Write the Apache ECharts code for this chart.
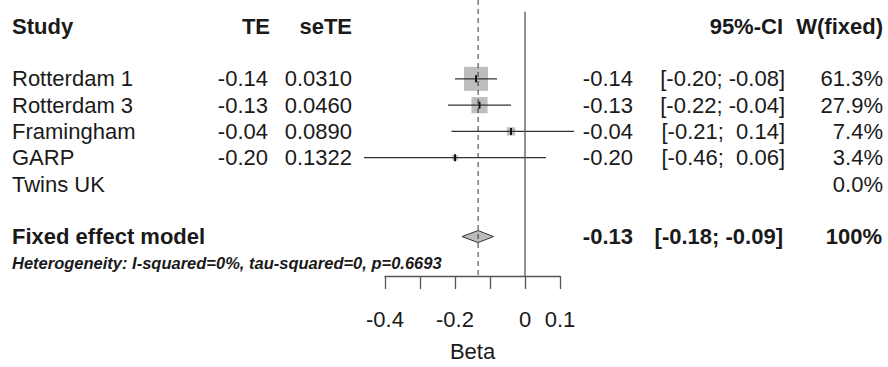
<!DOCTYPE html>
<html><head><meta charset="utf-8">
<script src="https://cdn.jsdelivr.net/npm/echarts@6/dist/echarts.min.js"></script>
<style>html,body{margin:0;padding:0;background:#fff}#c{width:888px;height:367px}</style>
</head><body><div id="c"></div>
<script>
// ---- data ----
var studies = ['Rotterdam 1', 'Rotterdam 3', 'Framingham', 'GARP', 'Twins UK'];
var te      = [-0.14, -0.13, -0.04, -0.20, null];
var seTE    = [0.0310, 0.0460, 0.0890, 0.1322, null];
var lower   = [-0.20, -0.22, -0.21, -0.46, null];
var upper   = [-0.08, -0.04, 0.14, 0.06, null];
var weight  = [61.3, 27.9, 7.4, 3.4, 0.0];
var pooled  = {label: 'Fixed effect model', te: -0.134, lower: -0.18, upper: -0.09, weight: 100};
var hetText = 'Heterogeneity: I-squared=0%, tau-squared=0, p=0.6693';
var headers = {study: 'Study', te: 'TE', se: 'seTE', ci: '95%-CI', w: 'W(fixed)'};
var xTicks  = [-0.4, -0.2, 0, 0.1];
var xName   = 'Beta';

// rows: header 0, studies 2.., pooled after a gap, heterogeneity below
var studyRows = studies.map(function(s, i){ return 2 + i; });
var pooledRow = studyRows[studyRows.length - 1] + 2;
var hetRow = pooledRow + 1;

var FONT = '"Liberation Sans", Arial, sans-serif';
var FS = 22;
var COL = {study: 12, te: 270, se: 352, eff: 633, ci: 785, w: 883};
var INK = '#1a1a1a';

function fmt2(v){ return v.toFixed(2); }
function ciStr(l, u){
  var a = fmt2(l), b = fmt2(u);
  if (u >= 0) b = ' ' + b;
  return '[' + a + '; ' + b + ']';
}

var studyData = studies.map(function(s, i){
  return [te[i] == null ? 0 : te[i], studyRows[i], lower[i] == null ? 0 : lower[i], upper[i] == null ? 0 : upper[i], weight[i], i];
});

function txt(x, y, s, align, opt){
  opt = opt || {};
  return {type: 'text', x: x, y: y, style: {
    text: s, textAlign: align, textVerticalAlign: 'middle',
    font: (opt.italic ? 'italic ' : '') + (opt.bold ? 'bold ' : '') + (opt.size || FS) + 'px ' + FONT,
    fill: INK
  }};
}

var maxW = Math.max.apply(null, weight);

var option = {
  animation: false,
  grid: {left: 385, right: 328, top: 0, bottom: 87},
  xAxis: {
    type: 'value', min: -0.4, max: 0.1, interval: 0.1,
    name: xName, nameLocation: 'middle', nameGap: 64,
    nameTextStyle: {fontFamily: FONT, fontSize: FS, color: INK},
    axisLine: {show: true, onZero: false, lineStyle: {color: '#555', width: 1.3}},
    axisTick: {show: true, length: 13, lineStyle: {color: '#555', width: 1.3}},
    splitLine: {show: false},
    axisLabel: {
      margin: 32, fontFamily: FONT, fontSize: FS, color: INK,
      formatter: function(v){
        for (var k = 0; k < xTicks.length; k++) if (Math.abs(xTicks[k] - v) < 1e-9) return String(xTicks[k]);
        return '';
      }
    }
  },
  yAxis: {type: 'value', inverse: true, min: -1, max: 9.5, show: false},
  series: [
    // reference lines: zero line and pooled-effect dashed line
    {
      type: 'line', symbol: 'none', silent: true,
      data: [[0, -0.55], [0, 9.5]],
      lineStyle: {color: '#555', width: 1.3}
    },
    {
      type: 'line', symbol: 'none', silent: true,
      data: [[pooled.te, -1], [pooled.te, 9.5]],
      lineStyle: {color: '#333', width: 1, type: [5, 4]}
    },
    // study CIs and squares
    {
      type: 'custom', clip: false,
      data: studyData,
      renderItem: function(params, api){
        var i = api.value(5);
        if (te[i] == null) return {type: 'group', children: []};
        var c = api.coord([api.value(0), api.value(1)]);
        var l = api.coord([api.value(2), api.value(1)]);
        var u = api.coord([api.value(3), api.value(1)]);
        var s = 24 * Math.sqrt(api.value(4) / maxW);
        return {type: 'group', children: [
          {type: 'rect', shape: {x: c[0] - s/2, y: c[1] - s/2, width: s, height: s}, style: {fill: '#bdbdbd'}},
          {type: 'line', shape: {x1: l[0], y1: c[1], x2: u[0], y2: c[1]}, style: {stroke: '#333', lineWidth: 1.3}},
          {type: 'rect', shape: {x: c[0] - 1, y: c[1] - 3.5, width: 2, height: 7}, style: {fill: '#111'}}
        ]};
      }
    },
    // pooled diamond
    {
      type: 'custom', clip: false,
      data: [[pooled.te, pooledRow, pooled.lower, pooled.upper]],
      renderItem: function(params, api){
        var c = api.coord([api.value(0), api.value(1)]);
        var l = api.coord([api.value(2), api.value(1)]);
        var u = api.coord([api.value(3), api.value(1)]);
        var h = 6;
        return {type: 'polygon', shape: {points: [[l[0], c[1]], [c[0], c[1] - h], [u[0], c[1]], [c[0], c[1] + h]]},
          style: {fill: '#bdbdbd', stroke: '#333', lineWidth: 1}};
      }
    },
    // table text
    {
      type: 'custom', clip: false,
      data: [[0, 0, -1]].concat(studyData.map(function(d){ return [0, d[1], d[5]]; })).concat([[0, pooledRow, -2], [0, hetRow, -3]]),
      renderItem: function(params, api){
        var y = api.coord([0, api.value(1)])[1];
        var k = api.value(2);
        var ch = [];
        if (k === -1) {
          ch.push(txt(COL.study, y, headers.study, 'left', {bold: true}));
          ch.push(txt(COL.te, y, headers.te, 'right', {bold: true}));
          ch.push(txt(COL.se, y, headers.se, 'right', {bold: true}));
          ch.push(txt(COL.ci - 2, y, headers.ci, 'right', {bold: true}));
          ch.push(txt(COL.w, y, headers.w, 'right', {bold: true}));
        } else if (k === -2) {
          ch.push(txt(COL.study, y, pooled.label, 'left', {bold: true}));
          ch.push(txt(COL.eff, y, fmt2(pooled.te), 'right', {bold: true}));
          ch.push(txt(COL.ci - 2, y, ciStr(pooled.lower, pooled.upper), 'right', {bold: true}));
          ch.push(txt(COL.w - 1, y, pooled.weight + '%', 'right', {bold: true}));
        } else if (k === -3) {
          ch.push(txt(COL.study, y, hetText, 'left', {bold: true, italic: true, size: 16.5}));
        } else {
          ch.push(txt(COL.study, y, studies[k], 'left'));
          if (te[k] != null) {
            ch.push(txt(COL.te - 2, y, fmt2(te[k]), 'right'));
            ch.push(txt(COL.se, y, seTE[k].toFixed(4), 'right'));
            ch.push(txt(COL.eff, y, fmt2(te[k]), 'right'));
            ch.push(txt(COL.ci, y, ciStr(lower[k], upper[k]), 'right'));
          }
          ch.push(txt(COL.w, y, weight[k].toFixed(1) + '%', 'right'));
        }
        return {type: 'group', children: ch};
      }
    }
  ]
};
var chart = echarts.init(document.getElementById('c'), null, {renderer: 'svg'});
chart.setOption(option);
</script>
</body></html>
